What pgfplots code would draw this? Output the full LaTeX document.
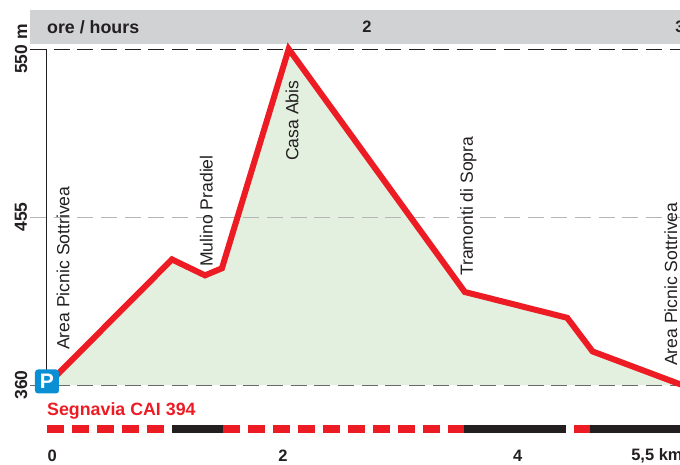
\documentclass[border=0pt]{standalone}
\usepackage{fontspec}
\setmainfont{Liberation Sans}
\usepackage{pgfplots}
\pgfplotsset{compat=1.18}
\definecolor{rd}{HTML}{ED1C24}
\definecolor{ink}{HTML}{231F20}
\definecolor{band}{HTML}{D1D2D4}
\definecolor{gfill}{HTML}{E3EFDF}
\definecolor{pblue}{HTML}{0A8FD4}
\definecolor{gdash}{HTML}{B5B5B5}
\definecolor{ddash}{HTML}{6A6A6A}
\begin{document}
\begin{tikzpicture}
\useasboundingbox (-47pt,-79pt) rectangle (633pt,385pt);
\clip (-47pt,-79pt) rectangle (633pt,385pt);
\begin{axis}[
  at={(0pt,0pt)}, anchor=south west,
  scale only axis, width=633pt, height=336pt,
  xmin=0, xmax=5.5, ymin=360, ymax=550,
  clip=false,
  axis lines=left, axis line style={draw=none},
  major tick length=0pt,
  xtick={0.045,2.05,4.09,5.30},
  xticklabels={0,2,4,{5,5 km}},
  x tick label style={font=\bfseries\fontsize{16.5}{18}\selectfont, text=ink, anchor=center, yshift=-71pt},
  ytick={360,455,550},
  yticklabels={360,455,{550 m}},
  y tick label style={font=\bfseries\fontsize{17.5}{19}\selectfont, text=ink, rotate=90, anchor=center, yshift=26pt},
]
% grey header band
\addplot[draw=none, fill=band] coordinates {(-0.148,552.8) (5.6,552.8) (5.6,572) (-0.148,572)} -- cycle;
% profile area
\addplot[draw=none, fill=gfill] coordinates {(0,360) (1.086,431) (1.373,422) (1.52,426) (2.10,550) (3.63,412.6) (4.52,398) (4.74,379) (5.5,360.5) (5.5,360)} -- cycle;
% dashed levels
\addplot[ink, line width=1pt, dash pattern=on 16pt off 7.7pt] coordinates {(-0.148,550) (5.5,550)};
\addplot[gdash, line width=1pt, dash pattern=on 16pt off 7.7pt] coordinates {(-0.148,455) (5.5,455)};
\addplot[ddash, line width=1pt, dash pattern=on 16pt off 7.7pt] coordinates {(-0.148,360) (5.5,360)};
% vertical axis
\addplot[ink, line width=1.2pt] coordinates {(-0.005,360) (-0.005,550)};
% profile line
\addplot[rd, line width=6pt, miter limit=10] coordinates {(0,360) (1.086,431) (1.373,422) (1.52,426) (2.10,550) (3.63,412.6) (4.52,398) (4.74,379) (5.6,358)};
% trail bar
\addplot[rd, line width=8pt, dash pattern=on 17pt off 8pt] coordinates {(0,335.1) (1.086,335.1)};
\addplot[ink, line width=8pt] coordinates {(1.086,335.1) (1.53,335.1)};
\addplot[rd, line width=8pt, dash pattern=on 17pt off 8pt] coordinates {(1.53,335.1) (3.62,335.1)};
\addplot[ink, line width=8pt] coordinates {(3.62,335.1) (4.51,335.1)};
\addplot[rd, line width=8pt] coordinates {(4.58,335.1) (4.72,335.1)};
\addplot[ink, line width=8pt] coordinates {(4.72,335.1) (5.5,335.1)};
% texts
\node[font=\bfseries\fontsize{17.8}{19}\selectfont, text=ink, anchor=west, inner sep=0pt] at (axis cs:0,562.4) {ore / hours};
\node[font=\bfseries\fontsize{16.5}{18}\selectfont, text=ink] at (axis cs:2.78,562.4) {2};
\node[font=\bfseries\fontsize{16.5}{18}\selectfont, text=ink] at (axis cs:5.5,562.4) {3};
\node[font=\bfseries\fontsize{17.8}{19}\selectfont, text=rd, anchor=west, inner sep=0pt] at (axis cs:0,345.3) {Segnavia CAI 394};
\foreach \px/\py/\t in {
  0.14/379.8/Area Picnic Sottrivea,
  1.385/426.7/Mulino Pradiel,
  2.13/486.7/Casa Abis,
  3.66/421.6/Tramonti di Sopra,
  5.42/370.7/Area Picnic Sottrivea}{
  \edef\tmp{\noexpand\node[rotate=90, anchor=west, inner sep=0pt, font=\noexpand\fontsize{17.6}{19}\noexpand\selectfont, text=ink] at (axis cs:\px,\py) {\t};}
  \tmp
}
% parking marker
\addplot[draw=none] coordinates {(0,362)} node[fill=pblue, rounded corners=3pt, minimum size=24pt, inner sep=0pt, text=white, font=\bfseries\fontsize{21}{22}\selectfont] {P};
\end{axis}
\end{tikzpicture}
\end{document}
